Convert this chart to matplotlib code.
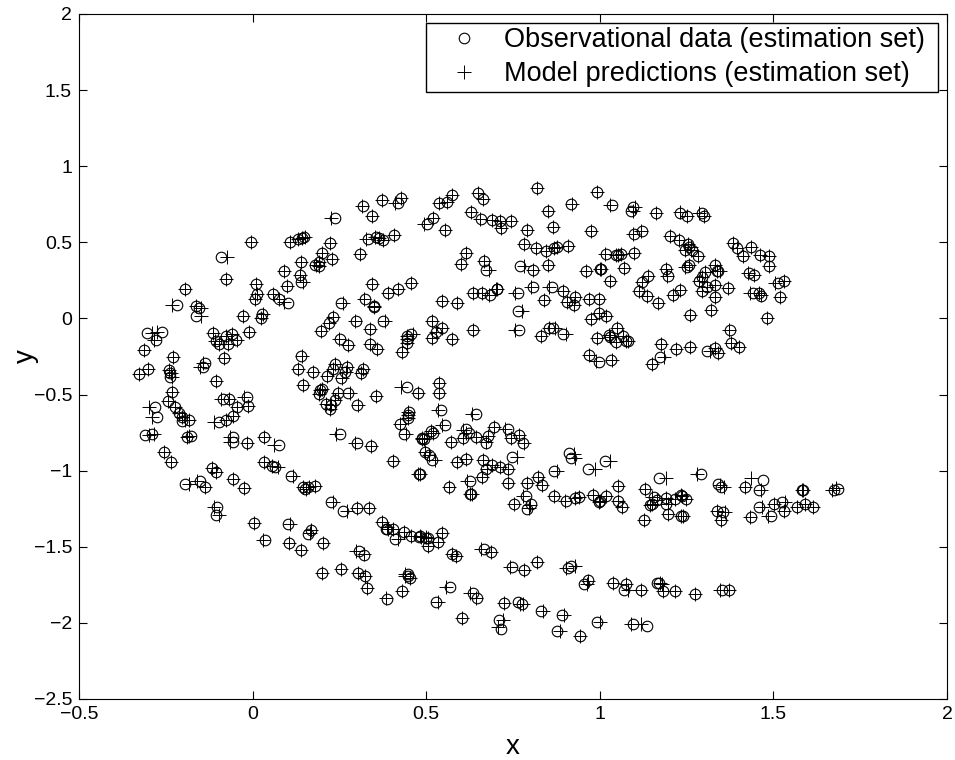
import matplotlib
matplotlib.use('Agg')
import matplotlib.pyplot as plt

# values: (x, y)
obs_upper = [
    (0.426,0.789),(0.372,0.780),(0.318,0.738),(0.420,0.756),(0.345,0.675),(0.237,0.662),(-0.005,0.500),(0.107,0.504),
    (0.131,0.522),(0.141,0.526),(0.148,0.537),(0.224,0.493),(0.331,0.522),(0.355,0.537),(0.365,0.526),(0.376,0.515),
    (0.406,0.550),(0.200,0.430),(0.308,0.423),(0.228,0.388),(-0.090,0.406),(0.139,0.368),(0.191,0.373),(0.180,0.349),
    (0.190,0.346),(0.089,0.309),(-0.076,0.261),(0.136,0.283),(0.138,0.241),(0.098,0.211),(0.009,0.224),(0.012,0.158),
    (0.006,0.127),(0.060,0.162),(0.077,0.130),(0.101,0.101),(-0.196,0.195),(-0.217,0.088),(-0.163,0.081),(-0.154,0.070),
    (-0.163,0.014),(-0.028,0.016),(0.026,0.031),(0.024,0.003),(0.345,0.226),(0.324,0.130),(0.390,0.165),(0.420,0.193),
    (0.456,0.230),(0.349,0.077),(0.349,0.079),(0.254,0.099),(0.232,0.009),(0.220,-0.028),(0.298,-0.017),(0.376,-0.019),
    (0.339,-0.070),(0.197,-0.085),(0.252,-0.138),(0.274,-0.177),(0.338,-0.170),(0.358,-0.201),(0.431,-0.223),(0.444,-0.114),
    (0.456,-0.100),(0.446,-0.135),(0.444,-0.159),(-0.305,-0.094),(-0.261,-0.087),(-0.279,-0.140),(-0.314,-0.208),(-0.229,-0.254),
    (-0.302,-0.335),(-0.328,-0.363),(-0.240,-0.339),(-0.239,-0.357),(-0.237,-0.385),(-0.115,-0.094),(-0.104,-0.151),(-0.098,-0.170),
    (-0.077,-0.116),(-0.060,-0.100),(-0.072,-0.170),(-0.047,-0.144),(-0.010,-0.087),(-0.081,-0.258),(-0.138,-0.295),(-0.143,-0.322),
    (-0.105,-0.409),(0.130,-0.332),(0.139,-0.249),(0.175,-0.352),(0.213,-0.379),(0.237,-0.297),(0.233,-0.332),(0.271,-0.317),
    (0.266,-0.354),(0.256,-0.394),(0.311,-0.361),(0.319,-0.332),
    (0.573,0.811),(0.561,0.763),(0.537,0.756),(0.650,0.826),(0.664,0.782),(0.818,0.859),(0.992,0.828),(0.917,0.754),
    (1.034,0.745),(0.850,0.708),(1.095,0.730),(1.090,0.703),(1.162,0.692),(1.231,0.695),(1.252,0.675),(1.293,0.690),
    (1.299,0.673),(0.628,0.697),(0.520,0.657),(0.502,0.620),(0.554,0.579),(0.658,0.653),(0.689,0.646),(0.712,0.642),
    (0.744,0.640),(0.715,0.592),(0.789,0.579),(0.864,0.603),(0.975,0.574),(1.121,0.574),(1.099,0.555),(1.202,0.544),
    (1.227,0.515),(1.255,0.489),(1.258,0.471),(1.246,0.449),(1.265,0.449),(1.284,0.408),(0.783,0.487),(0.817,0.462),
    (0.845,0.443),(0.869,0.465),(0.877,0.467),(0.909,0.473),(0.616,0.430),(0.600,0.357),(0.667,0.377),(0.671,0.318),
    (0.771,0.346),(0.808,0.318),(0.850,0.349),(0.961,0.314),(1.001,0.325),(1.004,0.325),(1.019,0.425),(1.047,0.414),
    (1.053,0.414),(1.060,0.423),(1.099,0.430),(1.070,0.333),(1.029,0.243),(1.191,0.325),(1.196,0.281),(1.139,0.281),
    (1.122,0.241),(1.112,0.180),(1.136,0.149),(1.169,0.099),(1.230,0.189),(1.212,0.156),(1.250,0.335),(1.258,0.351),
    (1.261,0.022),(0.635,0.169),(0.662,0.165),(0.685,0.156),(0.703,0.193),(0.705,0.193),(0.764,0.167),(0.808,0.204),
    (0.861,0.208),(0.895,0.178),(0.839,0.123),(0.928,0.141),(0.905,0.106),(0.926,0.088),(0.968,0.130),(0.999,0.130),
    (0.546,0.114),(0.588,0.099),(0.763,0.049),(0.999,0.038),(1.017,0.016),(0.974,-0.004),(0.517,-0.015),(0.546,-0.065),
    (0.528,-0.092),(0.517,-0.129),(0.575,-0.138),(0.636,-0.076),(0.766,-0.078),(0.830,-0.118),(0.854,-0.065),(0.864,-0.065),
    (0.895,-0.100),(0.993,-0.131),(1.049,-0.065),(1.026,-0.109),(1.029,-0.120),(1.068,-0.116),(1.046,-0.157),(1.075,-0.148),
    (1.080,-0.148),(0.968,-0.243),(0.997,-0.289),(1.032,-0.276),(1.175,-0.170),(1.220,-0.199),(1.260,-0.186),(1.173,-0.256),
    (1.150,-0.302),(1.384,0.493),(1.394,0.462),(1.435,0.469),(1.413,0.408),(1.461,0.414),(1.487,0.410),(1.488,0.344),
    (1.333,0.351),(1.341,0.314),(1.337,0.314),(1.303,0.307),(1.295,0.274),(1.287,0.248),(1.308,0.208),(1.294,0.180),
    (1.332,0.217),(1.370,0.198),(1.333,0.138),(1.320,0.055),(1.431,0.296),(1.444,0.287),(1.512,0.230),(1.531,0.248),
    (1.440,0.169),(1.459,0.169),(1.463,0.149),(1.519,0.143),(1.483,0.003),(1.375,-0.078),(1.378,-0.159),(1.402,-0.190),
    (1.308,-0.214),(1.332,-0.197),(1.339,-0.225),
]
pred_upper = [
    (0.426,0.789),(0.372,0.780),(0.316,0.738),(0.410,0.756),(0.345,0.675),(0.226,0.662),(-0.005,0.500),(0.107,0.504),
    (0.131,0.522),(0.141,0.526),(0.150,0.537),(0.224,0.493),(0.327,0.522),(0.352,0.537),(0.365,0.526),(0.376,0.515),
    (0.406,0.550),(0.200,0.430),(0.308,0.423),(0.230,0.388),(-0.075,0.406),(0.139,0.368),(0.191,0.373),(0.182,0.349),
    (0.190,0.346),(0.089,0.309),(-0.076,0.261),(0.136,0.283),(0.145,0.241),(0.100,0.211),(0.009,0.224),(0.012,0.158),
    (0.006,0.127),(0.060,0.162),(0.077,0.130),(0.090,0.108),(-0.196,0.195),(-0.232,0.088),(-0.163,0.081),(-0.150,0.070),
    (-0.150,0.014),(-0.028,0.016),(0.030,0.031),(0.024,0.003),(0.345,0.226),(0.320,0.130),(0.390,0.165),(0.420,0.193),
    (0.456,0.230),(0.349,0.077),(0.349,0.079),(0.260,0.099),(0.232,0.009),(0.220,-0.028),(0.296,-0.017),(0.380,-0.019),
    (0.339,-0.070),(0.197,-0.085),(0.248,-0.138),(0.274,-0.177),(0.338,-0.170),(0.358,-0.201),(0.431,-0.223),(0.444,-0.114),
    (0.462,-0.100),(0.446,-0.135),(0.444,-0.159),(-0.290,-0.094),(-0.275,-0.087),(-0.285,-0.140),(-0.314,-0.208),(-0.229,-0.254),
    (-0.302,-0.335),(-0.328,-0.363),(-0.240,-0.339),(-0.235,-0.357),(-0.233,-0.385),(-0.115,-0.094),(-0.108,-0.151),(-0.098,-0.170),
    (-0.077,-0.116),(-0.060,-0.100),(-0.072,-0.170),(-0.045,-0.144),(-0.010,-0.087),(-0.081,-0.258),(-0.143,-0.295),(-0.152,-0.322),
    (-0.105,-0.409),(0.130,-0.332),(0.141,-0.249),(0.175,-0.352),(0.213,-0.379),(0.237,-0.297),(0.233,-0.332),(0.271,-0.317),
    (0.268,-0.354),(0.258,-0.394),(0.311,-0.361),(0.319,-0.332),
    (0.573,0.811),(0.561,0.763),(0.537,0.756),(0.650,0.826),(0.664,0.782),(0.818,0.859),(0.992,0.828),(0.920,0.754),
    (1.030,0.745),(0.850,0.708),(1.100,0.730),(1.095,0.703),(1.162,0.692),(1.231,0.700),(1.252,0.675),(1.285,0.690),
    (1.299,0.673),(0.628,0.697),(0.520,0.657),(0.494,0.620),(0.554,0.579),(0.656,0.653),(0.689,0.646),(0.712,0.642),
    (0.744,0.640),(0.715,0.592),(0.789,0.579),(0.864,0.603),(0.975,0.574),(1.118,0.574),(1.095,0.555),(1.202,0.544),
    (1.227,0.515),(1.255,0.489),(1.262,0.471),(1.246,0.449),(1.262,0.449),(1.284,0.408),(0.783,0.487),(0.817,0.462),
    (0.845,0.443),(0.869,0.465),(0.877,0.467),(0.909,0.473),(0.616,0.430),(0.600,0.357),(0.667,0.377),(0.680,0.318),
    (0.782,0.346),(0.808,0.318),(0.850,0.349),(0.961,0.314),(1.001,0.325),(1.004,0.325),(1.015,0.425),(1.047,0.414),
    (1.053,0.414),(1.060,0.423),(1.099,0.430),(1.070,0.333),(1.029,0.243),(1.191,0.325),(1.193,0.281),(1.139,0.281),
    (1.122,0.241),(1.112,0.180),(1.136,0.149),(1.169,0.099),(1.230,0.189),(1.212,0.156),(1.245,0.335),(1.258,0.351),
    (1.261,0.022),(0.635,0.169),(0.662,0.165),(0.680,0.156),(0.700,0.193),(0.705,0.193),(0.757,0.167),(0.802,0.204),
    (0.854,0.208),(0.895,0.178),(0.839,0.123),(0.928,0.141),(0.905,0.106),(0.926,0.088),(0.968,0.130),(0.999,0.130),
    (0.546,0.114),(0.588,0.099),(0.775,0.049),(0.999,0.038),(1.017,0.016),(0.974,-0.004),(0.517,-0.015),(0.546,-0.065),
    (0.528,-0.092),(0.517,-0.129),(0.575,-0.138),(0.636,-0.076),(0.756,-0.078),(0.830,-0.118),(0.854,-0.065),(0.872,-0.065),
    (0.903,-0.100),(0.993,-0.131),(1.049,-0.065),(1.026,-0.109),(1.029,-0.120),(1.068,-0.116),(1.046,-0.157),(1.075,-0.148),
    (1.080,-0.148),(0.968,-0.243),(0.988,-0.282),(1.036,-0.276),(1.175,-0.170),(1.220,-0.199),(1.260,-0.186),(1.185,-0.256),
    (1.150,-0.302),(1.384,0.493),(1.394,0.462),(1.435,0.469),(1.413,0.408),(1.461,0.414),(1.487,0.410),(1.488,0.344),
    (1.333,0.351),(1.345,0.314),(1.337,0.314),(1.303,0.307),(1.295,0.274),(1.287,0.248),(1.308,0.208),(1.294,0.180),
    (1.332,0.217),(1.370,0.198),(1.333,0.138),(1.320,0.055),(1.427,0.296),(1.444,0.287),(1.506,0.230),(1.531,0.248),
    (1.434,0.169),(1.459,0.169),(1.463,0.155),(1.519,0.143),(1.483,0.003),(1.371,-0.078),(1.378,-0.159),(1.402,-0.190),
    (1.318,-0.214),(1.332,-0.197),(1.339,-0.225),
]
obs_lower = [
    (-0.231,-0.482),(-0.243,-0.541),(-0.224,-0.580),(-0.212,-0.624),(-0.202,-0.650),(-0.202,-0.672),(-0.183,-0.668),(-0.281,-0.580),
    (-0.274,-0.646),(-0.309,-0.764),(-0.289,-0.760),(-0.188,-0.782),(-0.178,-0.771),(-0.254,-0.880),(-0.236,-0.942),(-0.084,-0.532),
    (-0.068,-0.532),(-0.017,-0.519),(-0.012,-0.576),(-0.044,-0.585),(-0.057,-0.639),(-0.077,-0.668),(-0.096,-0.679),(-0.056,-0.782),
    (-0.057,-0.810),(-0.015,-0.821),(0.034,-0.782),(0.077,-0.834),(-0.118,-0.985),(-0.106,-1.009),(-0.195,-1.090),(-0.152,-1.066),
    (-0.137,-1.106),(-0.056,-1.053),(-0.024,-1.117),(-0.103,-1.239),(-0.105,-1.288),(0.005,-1.342),(0.103,-1.349),(0.037,-1.454),
    (0.033,-0.942),(0.055,-0.970),(0.064,-0.979),(0.110,-1.034),(0.145,-1.106),(0.152,-1.123),(0.159,-1.110),(0.180,-1.099),
    (0.225,-1.207),(0.261,-1.268),(0.301,-1.248),(0.336,-1.248),(0.373,-1.340),(0.383,-1.380),(0.386,-1.380),(0.405,-1.380),
    (0.411,-1.447),(0.436,-1.401),(0.456,-1.432),(0.480,-1.434),(0.168,-1.391),(0.160,-1.419),(0.105,-1.472),(0.139,-1.524),
    (0.204,-1.478),(0.306,-1.531),(0.320,-1.555),(0.256,-1.645),(0.200,-1.673),(0.303,-1.673),(0.324,-1.695),(0.449,-1.691),
    (0.252,-0.760),(0.300,-0.819),(0.340,-0.839),(0.403,-0.935),(0.479,-1.023),(0.145,-0.438),(0.194,-0.471),(0.191,-0.499),
    (0.199,-0.466),(0.210,-0.565),(0.225,-0.569),(0.224,-0.598),(0.237,-0.536),(0.247,-0.488),(0.275,-0.488),(0.302,-0.569),
    (0.354,-0.510),(0.444,-0.453),(0.477,-0.488),(0.451,-0.613),(0.449,-0.635),(0.447,-0.652),(0.424,-0.694),(0.437,-0.762),
    (0.487,-0.788),(0.537,-0.422),(0.537,-0.492),(0.543,-0.602),(0.644,-0.626),(0.554,-0.703),(0.513,-0.738),(0.520,-0.755),
    (0.487,-0.795),(0.494,-0.795),(0.572,-0.810),(0.614,-0.729),(0.605,-0.784),(0.623,-0.755),(0.642,-0.781),(0.677,-0.773),
    (0.673,-0.816),(0.695,-0.711),(0.736,-0.727),(0.744,-0.788),(0.767,-0.766),(0.778,-0.816),(0.497,-0.876),(0.509,-0.897),
    (0.518,-0.930),(0.588,-0.941),(0.614,-0.926),(0.663,-0.930),(0.690,-0.961),(0.712,-0.974),(0.737,-0.987),(0.671,-0.989),
    (0.662,-1.042),(0.746,-0.908),(0.483,-1.020),(0.565,-1.105),(0.626,-1.068),(0.625,-1.152),(0.628,-1.152),(0.736,-1.081),
    (0.790,-1.081),(0.821,-1.042),(0.833,-1.092),(0.788,-1.167),(0.752,-1.219),(0.803,-1.222),(0.790,-1.252),(0.867,-1.005),
    (0.912,-0.882),(0.918,-0.915),(0.965,-0.989),(1.015,-0.939),(0.867,-1.165),(0.904,-1.198),(0.930,-1.182),(0.941,-1.171),
    (0.980,-1.158),(1.001,-1.197),(0.998,-1.208),(1.018,-1.169),(1.053,-1.103),(1.053,-1.198),(1.063,-1.239),(1.130,-1.121),
    (1.170,-1.051),(1.155,-1.173),(1.146,-1.224),(1.149,-1.222),(1.165,-1.195),(1.192,-1.178),(1.191,-1.222),(1.218,-1.184),
    (1.234,-1.160),(1.237,-1.165),(1.247,-1.184),(1.196,-1.285),(1.233,-1.298),(1.241,-1.296),(1.126,-1.325),(0.482,-1.432),
    (0.499,-1.441),(0.506,-1.445),(0.545,-1.410),(0.534,-1.469),(0.504,-1.498),(0.573,-1.550),(0.586,-1.559),(0.667,-1.517),
    (0.688,-1.537),(0.820,-1.603),(0.747,-1.631),(0.782,-1.653),(0.916,-1.625),(0.909,-1.642),
    (1.292,-1.020),(1.341,-1.088),(1.349,-1.110),(1.417,-1.105),(1.471,-1.061),(1.459,-1.125),(1.582,-1.129),(1.584,-1.129),
    (1.675,-1.125),(1.686,-1.121),(1.459,-1.239),(1.502,-1.219),(1.524,-1.208),(1.531,-1.263),(1.568,-1.239),(1.592,-1.219),
    (1.614,-1.239),(1.436,-1.302),(1.494,-1.298),(1.337,-1.267),(1.355,-1.270),(1.348,-1.322),
    (0.330,-1.770),(0.388,-1.844),(0.430,-1.791),(0.448,-1.682),(0.453,-1.704),(0.529,-1.864),(0.568,-1.767),(0.634,-1.802),
    (0.647,-1.835),(0.604,-1.969),(0.723,-1.868),(0.765,-1.866),(0.776,-1.877),(0.831,-1.919),(0.710,-1.978),(0.716,-2.037),
    (0.890,-1.945),(0.876,-2.056),(0.942,-2.085),(0.992,-1.991),(1.097,-2.008),(1.137,-2.019),(0.965,-1.719),(0.955,-1.745),
    (1.037,-1.735),(1.075,-1.745),(1.069,-1.781),(1.118,-1.781),(1.166,-1.735),(1.170,-1.737),(1.181,-1.789),(1.218,-1.789),
    (1.274,-1.809),(1.352,-1.781),(1.373,-1.781),
]
pred_lower = [
    (-0.231,-0.482),(-0.243,-0.541),(-0.224,-0.580),(-0.212,-0.624),(-0.202,-0.650),(-0.195,-0.665),(-0.183,-0.668),(-0.297,-0.580),
    (-0.290,-0.646),(-0.297,-0.764),(-0.285,-0.760),(-0.188,-0.782),(-0.182,-0.771),(-0.254,-0.880),(-0.236,-0.942),(-0.092,-0.532),
    (-0.068,-0.532),(-0.025,-0.519),(-0.012,-0.576),(-0.044,-0.585),(-0.057,-0.639),(-0.077,-0.668),(-0.110,-0.679),(-0.065,-0.782),
    (-0.065,-0.810),(-0.015,-0.821),(0.034,-0.782),(0.062,-0.834),(-0.118,-0.985),(-0.106,-1.009),(-0.182,-1.090),(-0.160,-1.066),
    (-0.137,-1.106),(-0.056,-1.053),(-0.024,-1.117),(-0.110,-1.239),(-0.098,-1.288),(0.005,-1.342),(0.107,-1.349),(0.030,-1.454),
    (0.033,-0.942),(0.055,-0.970),(0.072,-0.979),(0.116,-1.034),(0.145,-1.106),(0.155,-1.123),(0.162,-1.110),(0.180,-1.099),
    (0.232,-1.207),(0.272,-1.268),(0.301,-1.248),(0.336,-1.248),(0.373,-1.340),(0.387,-1.372),(0.390,-1.380),(0.405,-1.380),
    (0.418,-1.447),(0.436,-1.401),(0.456,-1.432),(0.484,-1.434),(0.168,-1.391),(0.164,-1.410),(0.105,-1.472),(0.139,-1.524),
    (0.204,-1.478),(0.298,-1.531),(0.320,-1.545),(0.256,-1.645),(0.200,-1.673),(0.303,-1.673),(0.324,-1.695),(0.440,-1.691),
    (0.240,-0.760),(0.295,-0.819),(0.340,-0.839),(0.403,-0.935),(0.476,-1.023),(0.145,-0.438),(0.194,-0.471),(0.191,-0.499),
    (0.199,-0.466),(0.210,-0.565),(0.225,-0.569),(0.224,-0.598),(0.237,-0.536),(0.247,-0.488),(0.280,-0.488),(0.305,-0.569),
    (0.354,-0.510),(0.427,-0.453),(0.477,-0.488),(0.448,-0.613),(0.449,-0.635),(0.447,-0.652),(0.424,-0.694),(0.442,-0.762),
    (0.487,-0.788),(0.537,-0.422),(0.537,-0.492),(0.534,-0.602),(0.632,-0.626),(0.545,-0.703),(0.513,-0.738),(0.520,-0.755),
    (0.489,-0.795),(0.494,-0.795),(0.572,-0.810),(0.605,-0.734),(0.605,-0.784),(0.615,-0.755),(0.642,-0.781),(0.677,-0.773),
    (0.673,-0.812),(0.695,-0.711),(0.728,-0.727),(0.744,-0.788),(0.767,-0.766),(0.783,-0.816),(0.497,-0.876),(0.509,-0.897),
    (0.524,-0.930),(0.588,-0.941),(0.614,-0.926),(0.663,-0.930),(0.690,-0.961),(0.712,-0.974),(0.737,-0.987),(0.675,-0.989),
    (0.662,-1.042),(0.762,-0.908),(0.483,-1.020),(0.565,-1.105),(0.618,-1.068),(0.625,-1.152),(0.633,-1.152),(0.736,-1.081),
    (0.790,-1.081),(0.821,-1.042),(0.833,-1.092),(0.778,-1.167),(0.752,-1.219),(0.798,-1.226),(0.795,-1.245),(0.878,-1.005),
    (0.925,-0.888),(0.930,-0.915),(0.985,-0.989),(1.030,-0.939),(0.867,-1.165),(0.900,-1.198),(0.930,-1.182),(0.941,-1.171),
    (0.980,-1.158),(1.001,-1.197),(0.998,-1.208),(1.018,-1.169),(1.053,-1.103),(1.053,-1.198),(1.063,-1.239),(1.130,-1.121),
    (1.190,-1.051),(1.150,-1.173),(1.146,-1.224),(1.149,-1.222),(1.165,-1.195),(1.192,-1.178),(1.197,-1.222),(1.218,-1.184),
    (1.234,-1.160),(1.237,-1.165),(1.247,-1.184),(1.196,-1.285),(1.233,-1.298),(1.241,-1.296),(1.126,-1.325),(0.482,-1.432),
    (0.499,-1.436),(0.506,-1.445),(0.545,-1.410),(0.534,-1.469),(0.504,-1.498),(0.573,-1.550),(0.586,-1.559),(0.659,-1.517),
    (0.688,-1.537),(0.820,-1.603),(0.740,-1.631),(0.782,-1.653),(0.928,-1.625),(0.903,-1.642),
    (1.280,-1.020),(1.347,-1.092),(1.358,-1.110),(1.417,-1.105),(1.436,-1.050),(1.464,-1.125),(1.582,-1.129),(1.584,-1.129),
    (1.668,-1.125),(1.680,-1.115),(1.467,-1.239),(1.502,-1.219),(1.532,-1.208),(1.531,-1.263),(1.568,-1.239),(1.592,-1.219),
    (1.614,-1.239),(1.432,-1.302),(1.484,-1.298),(1.337,-1.267),(1.361,-1.270),(1.348,-1.322),
    (0.330,-1.770),(0.385,-1.836),(0.430,-1.791),(0.440,-1.682),(0.453,-1.704),(0.535,-1.864),(0.558,-1.767),(0.626,-1.802),
    (0.642,-1.835),(0.604,-1.969),(0.723,-1.868),(0.770,-1.877),(0.780,-1.877),(0.836,-1.919),(0.720,-1.978),(0.708,-2.030),
    (0.898,-1.945),(0.886,-2.056),(0.942,-2.085),(1.000,-1.991),(1.090,-2.008),(1.120,-2.008),(0.965,-1.725),(0.962,-1.745),
    (1.037,-1.735),(1.075,-1.745),(1.080,-1.781),(1.118,-1.781),(1.174,-1.740),(1.178,-1.745),(1.181,-1.789),(1.218,-1.789),
    (1.274,-1.809),(1.345,-1.781),(1.372,-1.781),
]
x_ticks = [-0.5, 0, 0.5, 1, 1.5, 2]
x_labels = ['\u22120.5', '0', '0.5', '1', '1.5', '2']
y_ticks = [-2.5, -2, -1.5, -1, -0.5, 0, 0.5, 1, 1.5, 2]
y_labels = ['\u22122.5', '\u22122', '\u22121.5', '\u22121', '\u22120.5', '0', '0.5', '1', '1.5', '2']

plt.rcParams['font.family'] = ['Liberation Sans', 'DejaVu Sans']

W, H = 955, 760
fig = plt.figure(figsize=(W / 100, H / 100), dpi=100)
ax = fig.add_axes([79 / W, 1 - 699 / H, (947 - 79) / W, (699 - 14) / H])

obs = obs_upper + obs_lower
pred = pred_upper + pred_lower
ax.plot([p[0] for p in obs], [p[1] for p in obs], 'o', mfc='none', mec='k', ms=7.6, mew=0.8,
        label='Observational data (estimation set)')
ax.plot([p[0] for p in pred], [p[1] for p in pred], '+', color='k', ms=10.5, mew=0.7,
        label='Model predictions (estimation set)')

ax.set_xlim(-0.5, 2)
ax.set_ylim(-2.5, 2)
ax.set_xticks(x_ticks, x_labels)
ax.set_yticks(y_ticks, y_labels)
ax.tick_params(direction='in', length=6, width=0.8, labelsize=14, top=True, right=True, pad=5)
for s in ax.spines.values():
    s.set_linewidth(0.8)
ax.set_xlabel('x', fontsize=20, labelpad=8)
ax.set_ylabel('y', fontsize=20, labelpad=-4)

# legend box fixed to the reference position, text left aligned inside it
ax.legend(loc='upper left', mode='expand',
          bbox_to_anchor=((426 - 79) / 868, (699 - 23) / 685, (938 - 426) / 868, 0.0), borderaxespad=0,
          fancybox=False, framealpha=1, edgecolor='k', fontsize=19.5, borderpad=0.16, labelspacing=0.3,
          handletextpad=0.23, handlelength=2.5)

fig.savefig('out.png', dpi=100)
